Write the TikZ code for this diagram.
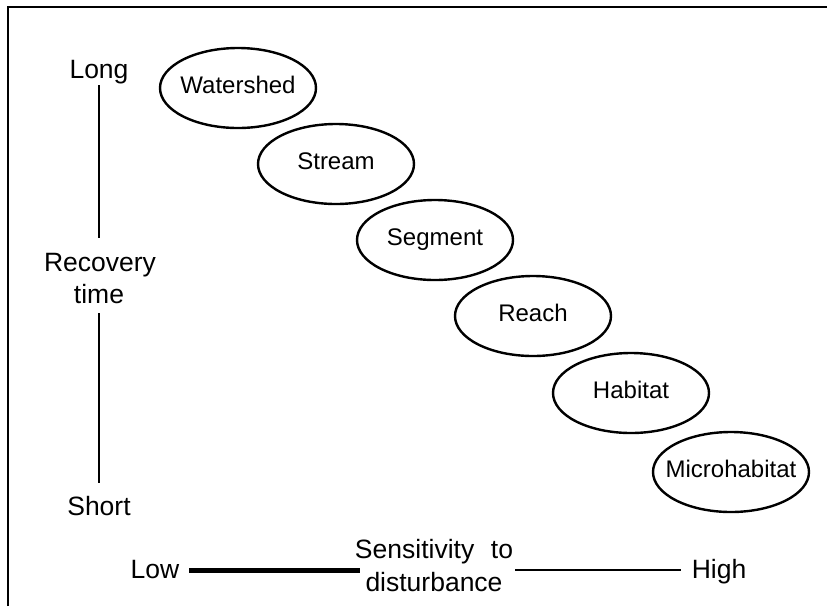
\documentclass[tikz,border=0pt]{standalone}
\usepackage{fontspec}
\setmainfont{Liberation Sans}
\usetikzlibrary{shapes.geometric}
\begin{document}
\begin{tikzpicture}[x=1pt,y=-1pt,
  scale box/.style={ellipse, draw, line width=2.4pt, minimum width=156pt,
    minimum height=80pt, inner sep=0pt, text width=90pt, align=center,
    text height=14pt, text depth=4pt,
    font=\fontsize{24}{27}\selectfont},
  axis text/.style={inner sep=0pt, anchor=base, font=\fontsize{26.5}{31}\selectfont},
  axis line/.style={line width=1.4pt}]
\useasboundingbox (0,0) rectangle (827,606);
% open frame: top and left edges only
\draw[line width=1.8pt] (8,606) -- (8,7) -- (827,7);

% spatial scales, largest to smallest
\node[scale box] (watershed) at (238,88)  {\makebox[0pt]{Watershed}};
\node[scale box] (stream)    at (336,164) {\makebox[0pt]{Stream}};
\node[scale box] (segment)   at (435,240) {\makebox[0pt]{Segment}};
\node[scale box] (reach)     at (533,316) {\makebox[0pt]{Reach}};
\node[scale box] (habitat)   at (631,393) {\makebox[0pt]{Habitat}};
\node[scale box] (micro)     at (731,472) {\makebox[0pt]{Microhabitat}};

% vertical axis: recovery time
\node[axis text] (long)  at (99,78)  {Long};
\node[axis text] (rec)   at (100,271) {Recovery};
\node[axis text] (time)  at (99,303) {time};
\node[axis text] (short) at (99,515) {Short};
\coordinate (ltop) at (99,85);
\coordinate (lmid) at (99,238);
\coordinate (lmid2) at (99,313);
\coordinate (lbot) at (99,483);
\draw[axis line] (ltop) -- (lmid);
\draw[axis line] (lmid2) -- (lbot);

% horizontal axis: sensitivity to disturbance
\node[axis text] (low)  at (155,578) {Low};
\node[axis text] (high) at (719,578) {High};
\node[axis text, anchor=center] (sens) at (434,552) {Sensitivity\hspace{0.35em} to};
\node[axis text, anchor=center] (dist) at (434,582) {disturbance};
\coordinate (thickL) at (189,570);
\coordinate (thickR) at (360,570);
\coordinate (thinL)  at (515,570);
\coordinate (thinR)  at (681,570);
\draw[line width=5pt] (thickL) -- (thickR);
\draw[line width=1.8pt] (thinL) -- (thinR);
\end{tikzpicture}
\end{document}
